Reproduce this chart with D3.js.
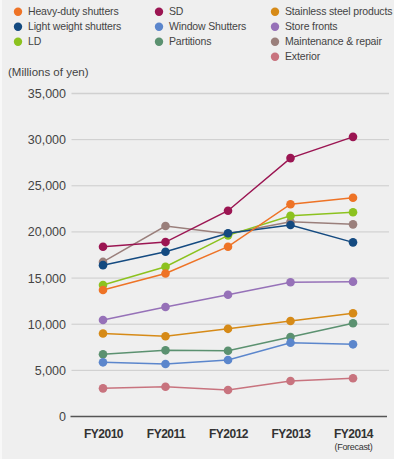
<!DOCTYPE html>
<html>
<head>
<meta charset="utf-8">
<script src="https://cdn.jsdelivr.net/npm/d3@7"></script>
<style>
  html, body { margin: 0; padding: 0; background: #efefef; }
  svg { display: block; }
</style>
</head>
<body>
<svg id="chart" width="394" height="459"></svg>
<script>
// Fiscal years on the x axis
const years = ["FY2010", "FY2011", "FY2012", "FY2013", "FY2014"];
const yearNotes = ["", "", "", "", "(Forecast)"];

// Sales by product line (millions of yen)
const heavyDuty    = [13700, 15500, 18400, 23000, 23700];
const sd           = [18400, 18900, 22300, 28000, 30300];
const stainless    = [9000, 8700, 9500, 10350, 11180];
const lightWeight  = [16400, 17850, 19850, 20750, 18870];
const windowShut   = [5870, 5690, 6120, 8000, 7820];
const storeFronts  = [10460, 11870, 13200, 14540, 14610];
const ld           = [14250, 16230, 19630, 21760, 22130];
const partitions   = [6740, 7170, 7130, 8610, 10100];
const maintenance  = [16750, 20640, 19800, 21110, 20820];
const exterior     = [3050, 3230, 2870, 3850, 4140];

const yTicks = [0, 5000, 10000, 15000, 20000, 25000, 30000, 35000];

const seriesNames = ["Heavy-duty shutters", "SD", "Stainless steel products",
  "Light weight shutters", "Window Shutters", "Store fronts",
  "LD", "Partitions", "Maintenance & repair", "Exterior"];
const seriesColors = ["#ee7326", "#9b1552", "#d68a17", "#144a80", "#5b86cc",
  "#9671b8", "#8cc21f", "#5b9170", "#9a7f7b", "#c8737e"];
const seriesValues = [heavyDuty, sd, stainless, lightWeight, windowShut,
  storeFronts, ld, partitions, maintenance, exterior];

const series = seriesNames.map((name, i) => ({ name, color: seriesColors[i], values: seriesValues[i] }));

const svg = d3.select("#chart");
const W = 394, H = 459;
const sans = "Liberation Sans, Arial, sans-serif";

// light frame strip on the left edge
svg.append("rect").attr("x", 0).attr("y", 0).attr("width", 2).attr("height", H).attr("fill", "#f8f8f8");

const x = d3.scalePoint().domain(years).range([103, 353]);
const y = d3.scaleLinear().domain([0, 35000]).range([416.5, 93.5]);

// Legend: three columns
const legendCols = [
  { x: 18, items: [0, 3, 6] },
  { x: 159, items: [1, 4, 7] },
  { x: 275, items: [2, 5, 8, 9] }
];
const legend = svg.append("g").attr("font-family", sans)
  .attr("font-size", 10.5).attr("letter-spacing", "-0.15").attr("fill", "#444");
legendCols.forEach(col => {
  col.items.forEach((idx, row) => {
    const cy = 11.7 + row * 15;
    legend.append("circle").attr("cx", col.x).attr("cy", cy).attr("r", 4.2)
      .attr("fill", series[idx].color);
    legend.append("text").attr("x", col.x + 10).attr("y", cy).attr("dy", "0.35em")
      .text(series[idx].name);
  });
});

svg.append("text").attr("x", 8).attr("y", 72).attr("dy", "0.35em")
  .attr("font-family", sans).attr("font-size", 11.5)
  .attr("fill", "#444").text("(Millions of yen)");

// Gridlines
const grid = svg.append("g");
grid.selectAll("line").data(yTicks.filter(t => t > 0)).join("line")
  .attr("x1", 71.5).attr("x2", 389)
  .attr("y1", d => y(d)).attr("y2", d => y(d))
  .attr("stroke", d => d === 35000 ? "#d0d0d0" : "#cccccc")
  .attr("stroke-width", d => d === 35000 ? 1.6 : 1);

// Y axis tick labels
const yAxis = d3.axisLeft(y).tickValues(yTicks).tickSize(0).tickPadding(0)
  .tickFormat(d3.format(","));
const yg = svg.append("g").attr("transform", "translate(66,0)").call(yAxis);
yg.select(".domain").remove();
yg.selectAll("text").attr("font-family", sans)
  .attr("font-size", 12.5).attr("fill", "#444");

// Baseline
svg.append("line").attr("x1", 70.5).attr("x2", 387).attr("y1", y(0)).attr("y2", y(0))
  .attr("stroke", "#555").attr("stroke-width", 1.4);

// X axis labels
const xAxis = d3.axisBottom(x).tickSize(0).tickPadding(0);
const xg = svg.append("g").attr("transform", `translate(0,${y(0) + 13})`).call(xAxis);
xg.select(".domain").remove();
xg.selectAll("text").attr("font-family", sans)
  .attr("font-size", 12).attr("font-weight", "bold").attr("fill", "#333")
  .attr("letter-spacing", "-0.5");
xg.selectAll(".tick").each(function(d, i) {
  if (yearNotes[i]) {
    d3.select(this).append("text").attr("y", 14).attr("dy", "0.71em")
      .attr("text-anchor", "middle")
      .attr("font-family", sans)
      .attr("font-size", 9).attr("letter-spacing", "-0.3").attr("fill", "#333").text(yearNotes[i]);
  }
});

// Lines and markers; drawn so the upper series sit on top
const drawOrder = [9, 8, 5, 2, 7, 4, 1, 6, 3, 0];
const line = d3.line().x((d, i) => x(years[i])).y(d => y(d));
const plot = svg.append("g");
drawOrder.forEach(idx => {
  const s = series[idx];
  const g = plot.append("g");
  g.append("path").datum(s.values).attr("d", line).attr("fill", "none")
    .attr("stroke", s.color).attr("stroke-width", 1.5);
  g.selectAll("circle").data(s.values).join("circle")
    .attr("cx", (d, i) => x(years[i])).attr("cy", d => y(d)).attr("r", 4.3)
    .attr("fill", s.color);
});
</script>
</body>
</html>
